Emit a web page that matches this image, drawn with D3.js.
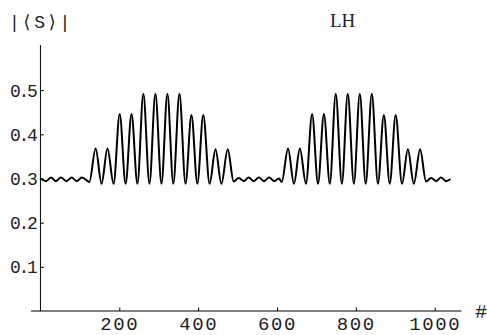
<!DOCTYPE html>
<html><head><meta charset="utf-8">
<script src="https://cdn.jsdelivr.net/npm/d3@7"></script>
<style>body{margin:0;background:#fff}svg{display:block}
.mono{font-family:"Liberation Mono","DejaVu Sans Mono",monospace}
.serif{font-family:"Liberation Serif","DejaVu Serif",serif}</style>
</head><body>
<svg id="c" width="487" height="335"></svg>
<script>
// sample index (#) at the extrema of the curve
const steps = [0,14,27,39,52,66,79,92,105,117,
  124,140,155,170,185.5,201,216,231,246,261,276.5,291.5,307,322,337,352.5,368,383,398,413,429,444,459,475,490,
  503,516,528,541,554,567,580,593,605,
  612,628,643,658,673.5,689,704,719,734,749,764.5,779.5,795,810,825,840.5,856,871,886,901,917,932,947,963,978,
  991,1004,1016,1029,1040];
// |<S>| at those samples
const spin = [0.300,0.294,0.302,0.294,0.302,0.294,0.302,0.294,0.302,0.296,
  0.292,0.368,0.288,0.368,0.288,0.446,0.288,0.446,0.288,0.492,0.288,0.492,0.288,0.492,0.288,0.492,0.288,0.444,0.288,0.444,0.288,0.366,0.288,0.366,0.293,
  0.301,0.294,0.302,0.294,0.302,0.294,0.302,0.294,0.300,
  0.292,0.368,0.288,0.368,0.288,0.446,0.288,0.446,0.288,0.492,0.288,0.492,0.288,0.492,0.288,0.492,0.288,0.444,0.288,0.444,0.288,0.366,0.288,0.366,0.293,
  0.301,0.294,0.302,0.294,0.299];
const xTickLabels = [200,400,600,800,1000];
const yTickLabels = [0.1,0.2,0.3,0.4,0.5];

const svg = d3.select("#c");
const x = d3.scaleLinear().domain([0,1000]).range([40.45,434.7]);
const y = d3.scaleLinear().domain([0,0.5]).range([311,90.15]);
const ink = "#222";

// axis lines
svg.append("line").attr("x1",x(-24)).attr("x2",x(1068)).attr("y1",y(0)).attr("y2",y(0))
  .attr("stroke","#000").attr("stroke-width",1);
svg.append("line").attr("x1",x(0)).attr("x2",x(0)).attr("y1",y(0)).attr("y2",y(0.602))
  .attr("stroke","#000").attr("stroke-width",1);

// x ticks
const xMinor = d3.range(50,1051,50).filter(v=>v%200!==0);
const gx = svg.append("g").attr("transform",`translate(0,${y(0)})`);
gx.call(d3.axisBottom(x).tickValues(xMinor).tickSize(-2).tickFormat(""));
gx.call(d3.axisBottom(x).tickValues(xTickLabels).tickSize(-3.5).tickPadding(0).tickFormat(d3.format("d")));
gx.selectAll("path.domain").remove();
gx.attr("font-family",null);
gx.selectAll("text").attr("class","mono").attr("y",19).attr("dy",0).attr("font-size",19)
  .attr("letter-spacing",1.6).attr("fill",ink);

// y ticks
const yMinor = d3.range(0.02,0.5901,0.02).filter(v=>Math.abs(v*10-Math.round(v*10))>1e-6);
const gy = svg.append("g").attr("transform",`translate(${x(0)},0)`);
gy.call(d3.axisLeft(y).tickValues(yMinor).tickSize(-2).tickFormat(""));
gy.call(d3.axisLeft(y).tickValues(yTickLabels).tickSize(-3.5).tickPadding(0).tickFormat(d3.format(".1f")));
gy.selectAll("path.domain").remove();
gy.attr("font-family",null);
gy.selectAll("text").attr("class","mono").attr("x",-5).attr("dy",0).attr("y",6).attr("font-size",18)
  .attr("letter-spacing",-2.3).attr("fill",ink);
svg.selectAll(".tick line").attr("stroke","#000").attr("stroke-width",1);

// curve
const pts = steps.map((s,i)=>[s,spin[i]]);
svg.append("path").datum(pts)
  .attr("d",d3.line().x(d=>x(d[0])).y(d=>y(d[1])).curve(d3.curveMonotoneX))
  .attr("fill","none").attr("stroke","#000").attr("stroke-width",2).attr("stroke-linejoin","round");

// labels
svg.append("text").attr("class","mono").attr("x",9).attr("y",28).attr("font-size",18)
  .attr("letter-spacing",1.8).attr("fill",ink).text("|\u27E8S\u27E9|");
svg.append("text").attr("class","serif").attr("x",330).attr("y",27).attr("font-size",19)
  .attr("fill",ink).text("LH");
svg.append("text").attr("class","mono").attr("x",475).attr("y",318).attr("font-size",20)
  .attr("fill",ink).text("#");
</script>
</body></html>
